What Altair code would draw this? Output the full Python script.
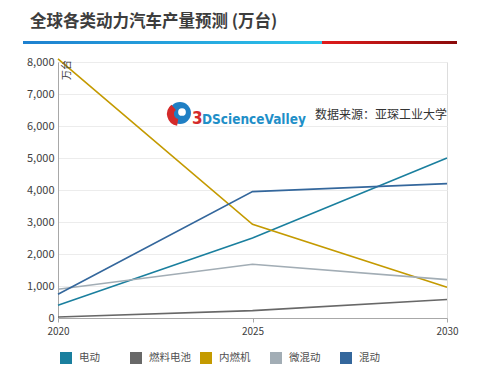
import altair as alt
import pandas as pd

years = [2020, 2025, 2030]
series = ["电动", "燃料电池", "内燃机", "微混动", "混动"]
ev = [400, 2500, 5000]
fuel_cell = [30, 230, 580]
ice = [8100, 2930, 960]
mild_hybrid = [900, 1680, 1200]
hybrid = [740, 3950, 4200]
colors = ["#1a7f9e", "#686868", "#c49a00", "#a2adb5", "#34679c"]
y_ticks = [0, 1000, 2000, 3000, 4000, 5000, 6000, 7000, 8000]

title_text = "全球各类动力汽车产量预测 (万台)"
source_text = "数据来源：亚琛工业大学"
unit_text = "万台"

rows = []
for name, vals in zip(series, [ev, fuel_cell, ice, mild_hybrid, hybrid]):
    for yr, v in zip(years, vals):
        rows.append({"year": yr, "value": v, "type": name})
df = pd.DataFrame(rows)

one = pd.DataFrame({"t": [""]})

x_enc = alt.X("year:Q", scale=alt.Scale(domain=[2020, 2030], nice=False),
              axis=alt.Axis(values=years, format="d", title=None, grid=False,
                            labelFontSize=10, labelColor="#404040", labelFlush=False,
                            domainColor="#a8a8a8", tickColor="#a8a8a8", tickSize=4,
                            labelPadding=4))
y_enc = alt.Y("value:Q", scale=alt.Scale(domain=[0, 8000], nice=False),
              axis=alt.Axis(values=y_ticks, format=",.0f", title=None, gridColor="#ececec",
                            labelFontSize=11, labelColor="#404040", ticks=False,
                            labelPadding=4, domainColor="#a8a8a8", labelOverlap=False))

lines = alt.Chart(df).mark_line(strokeWidth=1.6).encode(
    x=x_enc, y=y_enc,
    color=alt.Color("type:N", scale=alt.Scale(domain=series, range=colors),
                    legend=alt.Legend(title=None, orient="none", legendX=2, legendY=290,
                                      direction="horizontal", columns=5, gridAlign="all",
                                      columnPadding=0, symbolType="square", symbolSize=36,
                                      symbolStrokeWidth=6, symbolOpacity=1,
                                      labelFontSize=10.5, labelColor="#505050",
                                      labelOffset=7)),
)

title = alt.Chart(pd.DataFrame({"t": [title_text]})).mark_text(
    align="left", baseline="alphabetic", fontSize=16.5, fontWeight="bold",
    color="#3d3d3d", font="Noto Sans CJK SC"
).encode(x=alt.value(-28), y=alt.value(-35), text="t:N")

blue_bar = alt.Chart(one).mark_rect(
    color=alt.Gradient(gradient="linear", x1=0, x2=1, y1=0, y2=0,
                       stops=[alt.GradientStop(color="#1e80cf", offset=0),
                              alt.GradientStop(color="#2cc4ea", offset=1)])
).encode(x=alt.value(-35), x2=alt.value(264), y=alt.value(-21), y2=alt.value(-18))

red_bar = alt.Chart(one).mark_rect(
    color=alt.Gradient(gradient="linear", x1=0, x2=1, y1=0, y2=0,
                       stops=[alt.GradientStop(color="#e01c1c", offset=0),
                              alt.GradientStop(color="#8a0a0a", offset=1)])
).encode(x=alt.value(264), x2=alt.value(399), y=alt.value(-21), y2=alt.value(-18))

unit = alt.Chart(pd.DataFrame({"t": [unit_text]})).mark_text(
    angle=270, align="center", baseline="middle", fontSize=10, color="#404040",
    font="Noto Sans CJK SC"
).encode(x=alt.value(9), y=alt.value(8), text="t:N")

logo_circle = alt.Chart(one).mark_point(filled=True, shape="circle", size=480,
                                         color="#1f7fc4", opacity=1).encode(
    x=alt.value(122), y=alt.value(51))
logo_red = alt.Chart(one).mark_arc(radius=12, radius2=5, theta=3.3, theta2=5.6,
                                   color="#d42a2a").encode(
    x=alt.value(121), y=alt.value(52))
logo_inner = alt.Chart(one).mark_point(filled=True, shape="circle", size=60,
                                        color="white", opacity=1).encode(
    x=alt.value(124), y=alt.value(50))
logo_3 = alt.Chart(pd.DataFrame({"t": ["3"]})).mark_text(
    align="left", baseline="alphabetic", fontSize=17, fontWeight="bold",
    color="#d42a2a", font="DejaVu Sans Condensed"
).encode(x=alt.value(134), y=alt.value(62), text="t:N")
logo_txt = alt.Chart(pd.DataFrame({"t": ["DScienceValley"]})).mark_text(
    align="left", baseline="alphabetic", fontSize=13.5, fontWeight="bold",
    color="#1f8fc8", font="DejaVu Sans Condensed"
).encode(x=alt.value(144), y=alt.value(62), text="t:N")

source = alt.Chart(pd.DataFrame({"t": [source_text]})).mark_text(
    align="left", baseline="middle", fontSize=12, color="#333333",
    font="Noto Sans CJK SC"
).encode(x=alt.value(257), y=alt.value(53), text="t:N")

chart = alt.layer(
    blue_bar, red_bar, title, logo_circle, logo_red, logo_inner, logo_3, logo_txt,
    source, lines, unit
).properties(
    width=389, height=256,
    autosize=alt.AutoSizeParams(type="none"),
    padding={"left": 50, "top": 54, "right": 49, "bottom": 48},
).configure_view(stroke=None).configure(
    font="Noto Sans CJK SC", background="white"
)

chart.save("out.html", embed_options={"renderer": "svg", "actions": False})
